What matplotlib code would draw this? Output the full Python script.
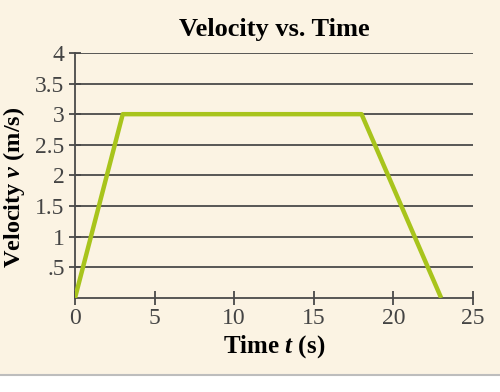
import matplotlib.pyplot as plt
from matplotlib.patches import Rectangle
from matplotlib.lines import Line2D

# data
t = [0, 3, 18, 23]
v = [0, 3, 3, 0]
y_ticks = [0.5, 1, 1.5, 2, 2.5, 3, 3.5, 4]
y_labels = ['.5', '1', '1.5', '2', '2.5', '3', '3.5', '4']
x_ticks = [0, 5, 10, 15, 20, 25]

bg = '#fbf3e3'
plt.rcParams['font.family'] = ['Liberation Serif', 'DejaVu Serif']
plt.rcParams['mathtext.fontset'] = 'custom'
plt.rcParams['mathtext.it'] = 'Liberation Serif:italic:bold'
plt.rcParams['mathtext.rm'] = 'Liberation Serif:bold'

fig = plt.figure(figsize=(5, 3.92), dpi=100, facecolor='white')
# cream panel with white strip at bottom
fig.patches.append(Rectangle((0, 0.043), 1, 0.957, transform=fig.transFigure,
                             facecolor=bg, edgecolor='none', zorder=-2))
fig.lines.append(Line2D([0, 1], [0.043, 0.043], transform=fig.transFigure,
                        color='#bdbdbd', lw=1.5))

ax = fig.add_axes([0.15, 0.24, 0.796, 0.625])
ax.set_facecolor(bg)
ax.plot(t, v, color='#a8c41c', lw=3.2, solid_capstyle='butt', zorder=3)

for y in y_ticks:
    ax.axhline(y, color='#4a4a4a', lw=1.3, zorder=1)

ax.set_xlim(0, 25)
ax.set_ylim(0, 4)
ax.set_xticks(x_ticks)
ax.set_yticks(y_ticks)
ax.set_yticklabels(y_labels)
for s in ['top', 'right']:
    ax.spines[s].set_visible(False)
for s in ['left', 'bottom']:
    ax.spines[s].set_color('#4a4a4a')
    ax.spines[s].set_linewidth(1.3)
ax.tick_params(direction='inout', length=10, width=1.3, color='#4a4a4a',
               labelsize=17, labelcolor='#444444', pad=2)
ax.tick_params(axis='y', length=9, pad=3)

ax.set_title('Velocity vs. Time', fontsize=19, fontweight='bold', pad=12)
ax.set_xlabel('Time $t$ (s)', fontsize=18, fontweight='bold', labelpad=3)
ax.set_ylabel('Velocity $v$ (m/s)', fontsize=17.5, fontweight='bold')
ax.yaxis.set_label_coords(-0.12, 0.45)

fig.savefig('out.png', dpi=100, facecolor='white')
